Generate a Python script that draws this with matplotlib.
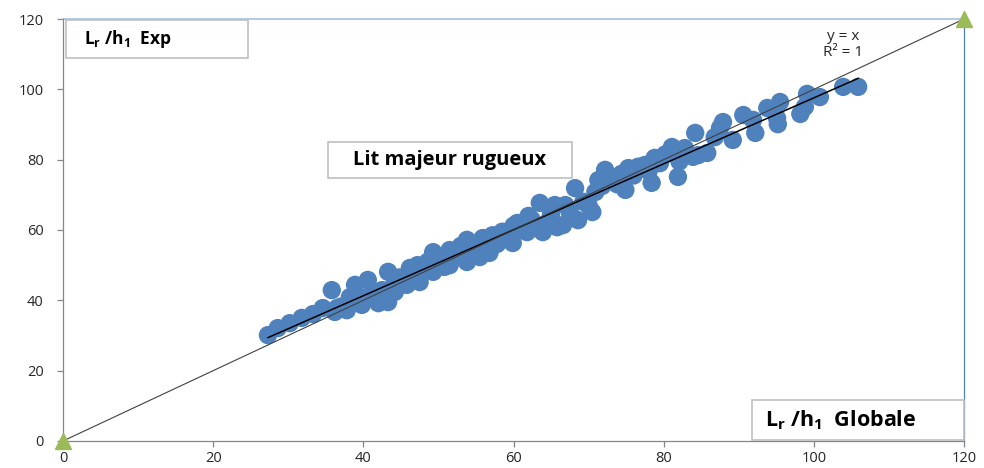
import numpy as np
import matplotlib.pyplot as plt
from matplotlib.patches import Rectangle

plt.rcParams['font.family'] = ['Open Sans', 'DejaVu Sans']
plt.rcParams['mathtext.fontset'] = 'custom'
plt.rcParams['mathtext.rm'] = 'Open Sans'
plt.rcParams['mathtext.bf'] = 'Open Sans:bold'

# Lr/h1 : valeur globale (x) contre valeur experimentale (y)
lr_h1_globale = [27.3, 28.6, 30.2, 31.8, 33.3, 34.6, 35.8, 36.2, 36.5, 37.0, 37.8, 38.2, 38.9,
                 39.0, 39.8, 40.2, 40.6, 41.2, 42.0, 42.5, 43.3, 43.3, 44.0, 44.2, 44.8, 45.2,
                 45.8, 46.2, 46.8, 47.2, 47.5, 48.0, 48.6, 49.3, 49.3, 50.2, 50.8, 51.5, 51.5,
                 52.3, 53.0, 53.8, 53.8, 54.6, 55.5, 55.9, 56.5, 56.8, 57.2, 57.8, 58.5, 59.2,
                 59.9, 60.0, 60.5, 61.0, 61.8, 62.0, 62.4, 63.0, 63.5, 63.9, 64.6, 65.0, 65.5,
                 65.8, 66.6, 66.9, 67.5, 68.2, 68.6, 69.3, 70.0, 70.5, 70.9, 71.3, 71.8, 72.2,
                 73.1, 73.8, 74.4, 74.9, 75.3, 76.0, 76.6, 77.5, 78.0, 78.4, 78.8, 79.5, 80.2,
                 81.1, 81.9, 82.1, 82.8, 83.9, 84.2, 84.6, 85.8, 86.8, 87.5, 87.9, 89.2, 90.6,
                 91.9, 92.2, 93.8, 95.1, 95.2, 95.5, 98.2, 98.8, 99.1, 100.8, 103.9, 105.9]
lr_h1_exp = [30.1, 32.1, 33.5, 35.0, 36.1, 37.8, 42.9, 36.7, 37.8, 38.2, 37.2, 40.9, 44.4,
             39.5, 38.7, 40.7, 45.8, 42.5, 39.2, 42.9, 48.1, 39.5, 44.0, 42.4, 46.5, 45.2,
             44.4, 49.2, 47.0, 50.0, 45.2, 48.5, 51.0, 53.7, 48.1, 52.0, 49.5, 54.3, 50.0,
             52.5, 55.5, 57.2, 50.9, 54.5, 52.3, 57.7, 55.5, 53.5, 58.5, 56.0, 59.5, 58.0,
             56.3, 61.2, 62.0, 60.0, 59.4, 64.0, 63.0, 61.0, 67.7, 59.4, 62.3, 64.5, 67.1,
             60.8, 61.4, 67.1, 65.0, 71.9, 62.8, 68.0, 67.0, 65.1, 70.8, 74.2, 72.5, 77.1,
             75.1, 73.0, 76.0, 71.4, 77.6, 75.5, 78.0, 78.5, 76.8, 73.4, 80.5, 79.0, 81.5,
             83.6, 75.1, 79.5, 83.3, 80.8, 87.6, 81.3, 81.9, 86.4, 89.0, 90.7, 85.6, 92.7,
             91.3, 87.6, 94.7, 91.8, 90.1, 96.4, 93.0, 95.0, 98.7, 97.8, 100.7, 100.7]

# droite y = x entre les deux bornes
bornes = [0, 120]
ticks = [0, 20, 40, 60, 80, 100, 120]

fig = plt.figure(figsize=(9.84, 4.68), dpi=100)
ax = fig.add_axes([0.064, 0.0577, 0.9157, 0.9017])

ax.scatter(lr_h1_globale, lr_h1_exp, s=175, color='#4F81BD', edgecolors='none', zorder=3)

# courbe de tendance lineaire
a, b = np.polyfit(lr_h1_globale, lr_h1_exp, 1)
xt = np.array([min(lr_h1_globale), max(lr_h1_globale)])
ax.plot(xt, a * xt + b, color='black', lw=1.1, zorder=4)

# y = x avec les triangles aux extremites
ax.plot(bornes, bornes, color='#404040', lw=0.8, zorder=4)
ax.plot(bornes, bornes, linestyle='none', marker='^', ms=11, color='#9BBB59',
        clip_on=False, zorder=5)
ax.plot([0, 120], [120, 120], color='#A7C0DE', lw=1.2, clip_on=False, zorder=2)
ax.plot([120, 120], [0, 120], color='#4F81BD', lw=0.9, clip_on=False, zorder=2)

ax.set_xlim(0, 120)
ax.set_ylim(0, 120)
ax.set_xticks(ticks)
ax.set_yticks(ticks)
for s in ['top', 'right']:
    ax.spines[s].set_visible(False)
for s in ['left', 'bottom']:
    ax.spines[s].set_color('#868686')
    ax.spines[s].set_linewidth(0.9)
ax.tick_params(axis='both', colors='#868686', labelcolor='#262626', labelsize=10.5,
               length=4, width=0.9)
ax.tick_params(axis='y', pad=10)
ax.tick_params(axis='x', pad=3)

# cadres de texte
def cadre(x0, y0, w, h):
    r = Rectangle((x0, y0), w, h, transform=ax.transAxes, facecolor='white',
                  edgecolor='#BFBFBF', lw=1.2, clip_on=False, zorder=6)
    ax.add_patch(r)

cadre(0.0033, 0.9076, 0.202, 0.09)
ax.text(0.023, 0.952, r'$\mathbf{L_r}$ $\mathbf{/h_1}$  Exp', transform=ax.transAxes,
        fontsize=12.5, fontweight='bold', va='center', ha='left', zorder=7)

cadre(0.294, 0.623, 0.271, 0.0855)
ax.text(0.4295, 0.665, 'Lit majeur rugueux', transform=ax.transAxes,
        fontsize=14.5, fontweight='bold', va='center', ha='center', zorder=7)

cadre(0.7647, 0.0024, 0.2353, 0.0946)
ax.text(0.779, 0.05, r'$\mathbf{L_r}$ $\mathbf{/h_1}$  Globale', transform=ax.transAxes,
        fontsize=15.5, fontweight='bold', va='center', ha='left', zorder=7)

ax.text(0.866, 0.94, 'y = x\nR² = 1', transform=ax.transAxes, fontsize=11,
        ha='center', va='center', linespacing=1.1, color='#262626', zorder=7)

fig.savefig('out.png', dpi=100)
